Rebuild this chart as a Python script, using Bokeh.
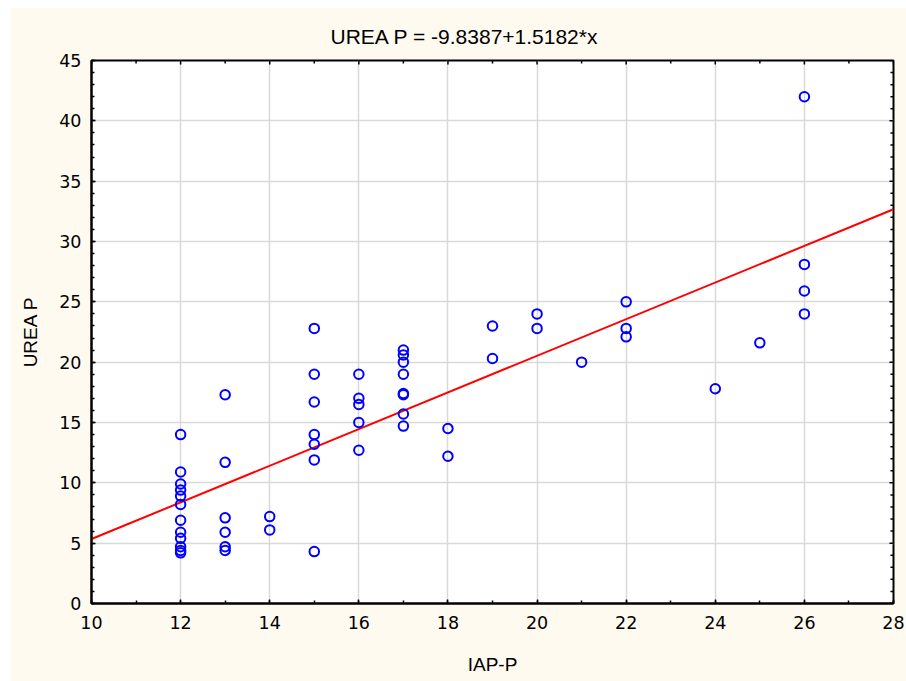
import numpy as np
from bokeh.plotting import figure
from bokeh.models import SingleIntervalTicker, Range1d, Title, ColumnDataSource
from bokeh.embed import file_html
from bokeh.resources import INLINE

# Observations: IAP-P score vs. UREA P
iap_p = ([12] * 12 + [13] * 6 + [14] * 2 + [15] * 7 + [16] * 5 + [17] * 8 +
         [18] * 2 + [19] * 2 + [20] * 2 + [21] + [22] * 3 + [24] + [25] + [26] * 4)
urea_p = [14.0, 10.9, 9.9, 9.4, 8.9, 8.2, 6.9, 5.9, 5.4, 4.7, 4.4, 4.2,
          17.3, 11.7, 7.1, 5.9, 4.7, 4.4,
          7.2, 6.1,
          22.8, 19.0, 16.7, 14.0, 13.2, 11.9, 4.3,
          19.0, 17.0, 16.5, 15.0, 12.7,
          21.0, 20.6, 20.0, 19.0, 17.4, 17.3, 15.7, 14.7,
          14.5, 12.2,
          23.0, 20.3,
          24.0, 22.8,
          20.0,
          25.0, 22.8, 22.1,
          17.8,
          21.6,
          42.0, 28.1, 25.9, 24.0]

# Fitted regression line
intercept = -9.8387
slope = 1.5182
x_span = [10, 28]
y_span = [0, 45]
x_step, y_step = 2, 5

FONT = "Liberation Sans"
TICK_FONT = "DejaVu Sans"
CREAM = "#fffaf0"
GRID = "#d9d9d9"

p = figure(width=896, height=674, output_backend="svg", toolbar_location=None,
           x_range=Range1d(*x_span), y_range=Range1d(*y_span),
           x_axis_label="IAP-P", y_axis_label="UREA P",
           min_border_left=81, min_border_right=13, min_border_top=53,
           min_border_bottom=78)
p.margin = (7, 0, 0, 10)
p.background_fill_color = "white"
p.border_fill_color = CREAM
p.outline_line_color = "black"
p.outline_line_width = 2

xt = SingleIntervalTicker(interval=x_step, num_minor_ticks=2)
yt = SingleIntervalTicker(interval=y_step, num_minor_ticks=5)

for ax in (p.xaxis[0], p.yaxis[0]):
    ax.axis_line_color = "black"
    ax.axis_line_width = 2
    ax.major_tick_line_color = "black"
    ax.minor_tick_line_color = "black"
    ax.major_tick_line_width = 1.5
    ax.minor_tick_line_width = 1.5
    ax.major_tick_in = 4
    ax.major_tick_out = 0
    ax.minor_tick_in = 3
    ax.minor_tick_out = 0
    ax.major_label_text_font = TICK_FONT
    ax.major_label_text_font_size = "17.5px"
    ax.major_label_text_color = "black"
    ax.axis_label_text_font = FONT
    ax.axis_label_text_font_size = "19px"
    ax.axis_label_text_font_style = "normal"
    ax.axis_label_text_color = "black"

p.xaxis.ticker = xt
p.yaxis.ticker = yt
p.xaxis.major_label_standoff = 12
p.xaxis.axis_label_standoff = 22
p.yaxis.major_label_standoff = 10
p.yaxis.axis_label_standoff = 15

p.add_layout(Title(text=f"UREA P = {intercept}+{slope}*x", align="left",
                   text_font=FONT, text_font_size="21px", text_font_style="normal",
                   text_color="black", standoff=26, offset=239), "above")

p.xgrid.ticker = xt
p.ygrid.ticker = yt
p.xgrid.grid_line_color = GRID
p.ygrid.grid_line_color = GRID
p.xgrid.grid_line_width = 1.5
p.ygrid.grid_line_width = 1.5

# inward tick marks along the top and right edges of the frame
x_major = np.arange(x_span[0], x_span[1] + 0.1, x_step)
x_minor = np.arange(x_span[0] + 1, x_span[1], x_step)
y_all = np.arange(y_span[0], y_span[1] + 0.1, 1)
y_major = y_all[y_all % y_step == 0]
y_minor = y_all[y_all % y_step != 0]
tick_kw = dict(marker="dash", line_color="black", line_width=1.5)
p.scatter(x_major, [y_span[1]] * len(x_major), size=8, angle=np.pi / 2, **tick_kw)
p.scatter(x_minor, [y_span[1]] * len(x_minor), size=6, angle=np.pi / 2, **tick_kw)
p.scatter([x_span[1]] * len(y_major), y_major, size=8, **tick_kw)
p.scatter([x_span[1]] * len(y_minor), y_minor, size=6, **tick_kw)

fit_y = [intercept + slope * v for v in x_span]
p.line(x_span, fit_y, line_color="red", line_width=2)

src = ColumnDataSource(dict(x=iap_p, y=urea_p))
p.scatter("x", "y", source=src, marker="circle", size=9.5, fill_color=None,
          line_color="blue", line_width=2)

open("out.html", "w").write(file_html(p, INLINE))
